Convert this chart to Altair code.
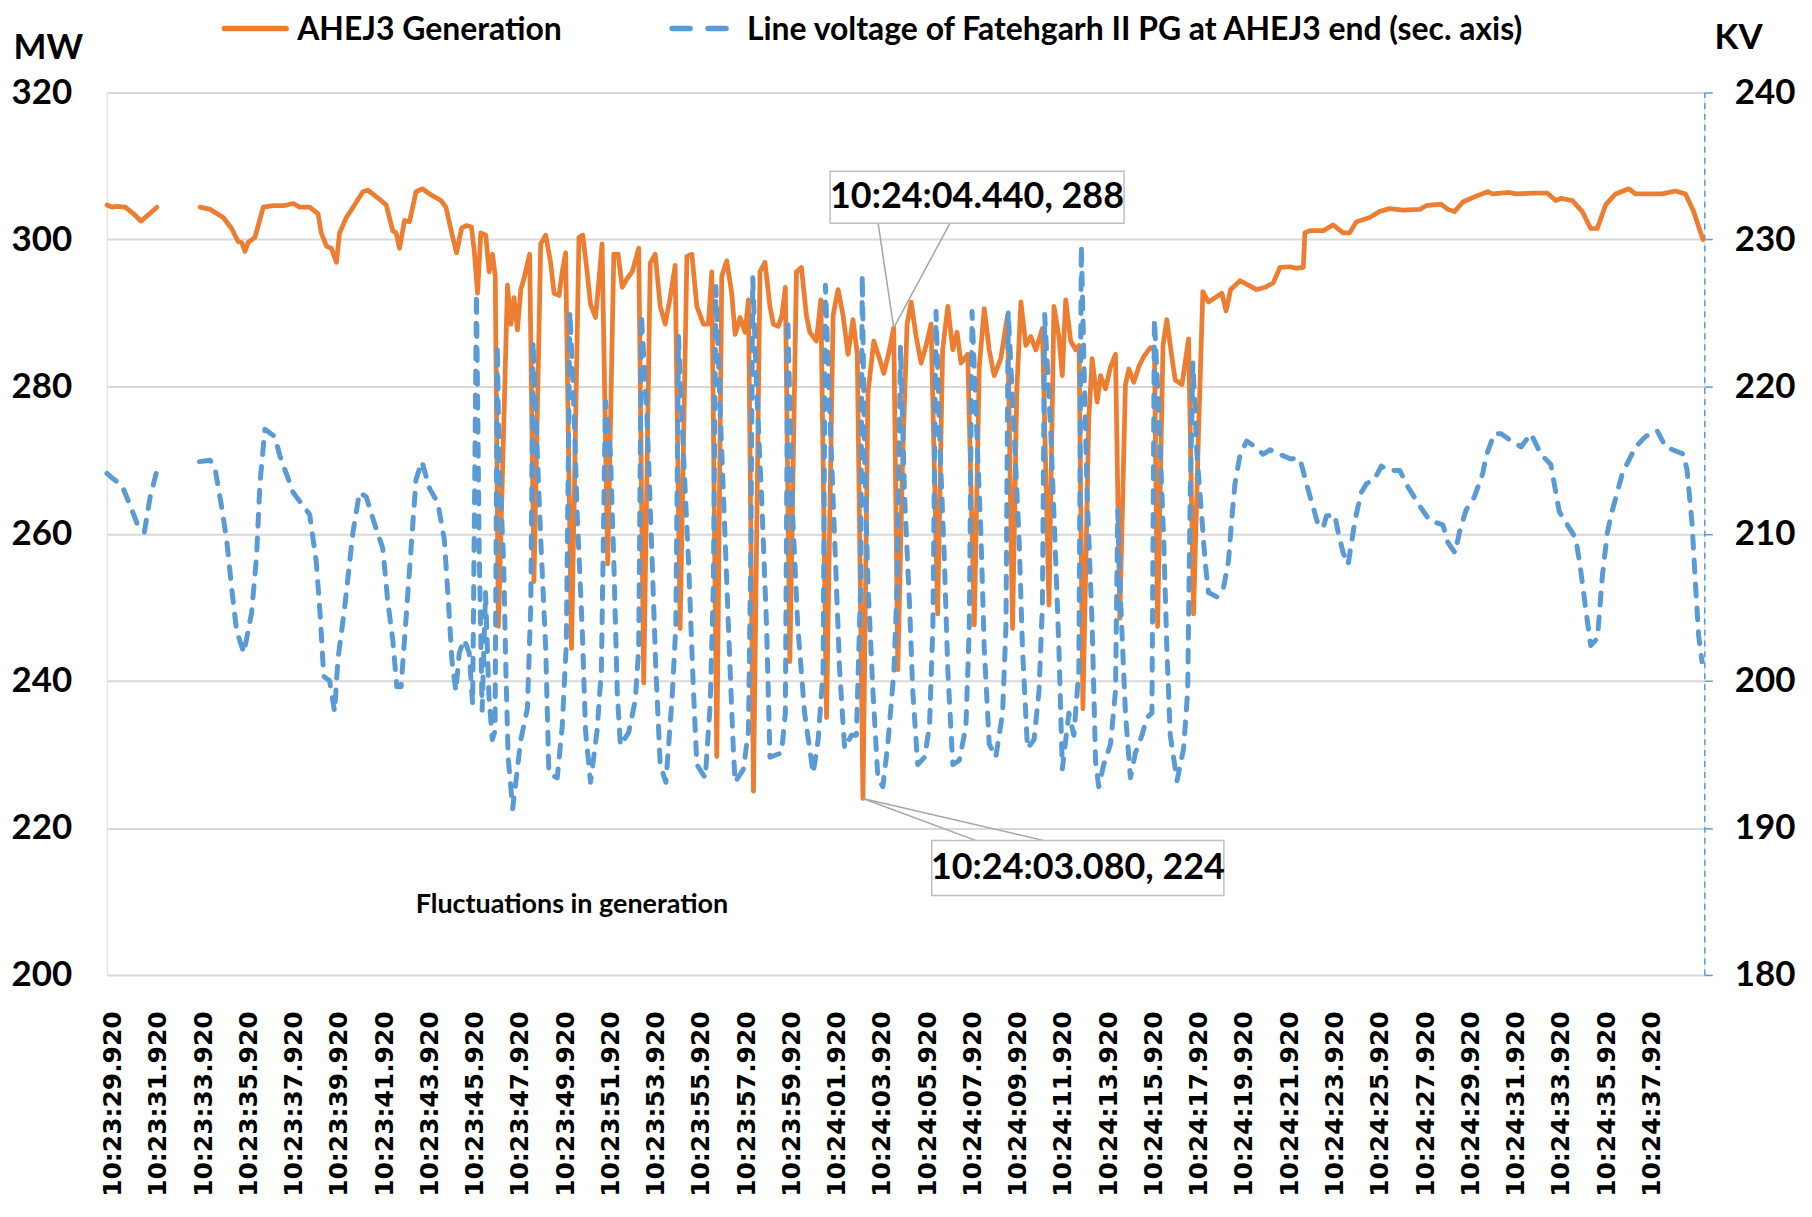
import altair as alt
import pandas as pd

# ---------------- data (time = seconds after 10:23:00) ----------------
orange_t = [29.67, 29.89, 30.11, 30.48, 30.85, 31.17, 31.44, 31.88,
            33.79, 34.23, 34.81, 35.18, 35.47, 35.62, 35.77, 35.91, 36.21, 36.58, 37.02, 37.46,
            37.90, 38.19, 38.63, 39.00, 39.14, 39.37, 39.59, 39.81, 39.95, 40.25, 40.61, 40.98,
            41.20, 41.71, 42.01, 42.30, 42.45, 42.60, 42.82, 43.04, 43.33, 43.62, 43.92, 44.43,
            44.65, 44.95, 45.12, 45.35, 45.55, 45.78, 45.90, 46.05, 46.19, 46.41, 46.56, 46.71,
            46.83, 46.97, 47.37, 47.52, 47.66, 47.81, 47.96, 48.10, 48.35, 48.54, 48.84, 49.06,
            49.28, 49.43, 49.65, 49.79, 49.94, 50.20, 50.53, 50.70, 50.89, 51.04, 51.26, 51.41,
            51.55, 51.80, 52.07, 52.26, 52.44, 52.66, 52.88, 53.17, 53.39, 53.68, 53.90, 54.12,
            54.34, 54.56, 54.78, 55.00, 55.30, 55.52, 55.74, 56.03, 56.25, 56.40, 56.62, 56.84,
            57.06, 57.28, 57.43, 57.65, 57.87, 58.02, 58.24, 58.53, 58.75, 58.97, 59.12, 59.34,
            59.50, 59.65, 59.85, 60.14, 60.36, 60.58, 60.73, 61.02, 61.22, 61.47, 61.76, 61.98,
            62.20, 62.42, 62.64, 62.83, 63.08, 63.30, 63.56, 63.81, 64.00, 64.25, 64.44, 64.62,
            64.84, 65.03, 65.21, 65.43, 65.65, 65.87, 66.09, 66.38, 66.60, 66.83, 67.05, 67.24,
            67.41, 67.71, 68.00, 68.22, 68.44, 68.66, 68.88, 69.17, 69.47, 69.69, 69.88, 70.06,
            70.28, 70.50, 70.72, 71.01, 71.30, 71.52, 71.74, 71.89, 72.04, 72.26, 72.48, 72.63,
            72.80, 73.06, 73.21, 73.43, 73.58, 73.80, 74.02, 74.24, 74.43, 74.68, 74.83, 75.05,
            75.27, 75.49, 75.78, 75.96, 76.10, 76.34, 76.51, 76.74, 76.88, 77.18, 77.47, 77.69,
            77.91, 78.10, 78.35, 78.64, 78.94, 79.13, 79.33, 79.75, 80.11, 80.48, 80.85, 81.21,
            81.51, 81.95, 82.24, 82.54, 82.61, 82.83, 83.42, 83.86, 84.30, 84.59, 84.88, 85.47,
            85.91, 86.35, 86.94, 87.68, 87.97, 88.63, 88.93, 89.22, 89.59, 90.18, 90.69, 90.91,
            91.64, 91.94, 92.67, 93.33, 93.70, 93.92, 94.43, 94.87, 95.24, 95.53, 95.90, 96.34,
            96.93, 97.22, 97.81, 98.40, 98.99, 99.43, 99.79, 100.20]
orange_mw = [304.7, 304.4, 304.5, 304.4, 303.5, 302.5, 303.2, 304.4,
             304.4, 304.1, 303.0, 301.5, 299.7, 299.6, 298.4, 299.6, 300.3, 304.4, 304.6, 304.6,
             304.9, 304.4, 304.4, 303.5, 300.9, 299.1, 298.8, 296.9, 300.9, 303.0, 304.7, 306.5,
             306.7, 305.5, 304.7, 301.2, 300.9, 298.8, 302.6, 302.4, 306.5, 306.9, 306.2, 305.3,
             304.4, 300.3, 298.2, 301.6, 301.9, 301.7, 298.5, 292.7, 300.9, 300.6, 295.6, 298.0,
             295.0, 247.4, 293.8, 288.5, 292.1, 287.7, 293.2, 294.7, 298.0, 253.5, 299.4, 300.6,
             296.8, 292.7, 292.4, 295.6, 298.2, 244.4, 300.3, 300.6, 295.6, 291.2, 289.4, 294.4,
             299.4, 255.9, 298.0, 298.0, 293.5, 294.7, 295.6, 298.8, 239.7, 296.8, 298.0, 290.9,
             288.5, 292.1, 296.5, 247.1, 297.7, 298.0, 290.9, 288.5, 288.5, 295.6, 229.7, 295.0,
             297.1, 292.7, 287.1, 289.4, 287.4, 291.8, 225.0, 295.6, 296.9, 290.9, 288.5, 288.2,
             289.7, 293.5, 242.6, 295.6, 296.2, 289.7, 287.4, 286.2, 291.8, 235.0, 289.7, 293.2,
             289.7, 284.4, 289.1, 284.4, 224.0, 279.1, 286.2, 283.8, 281.8, 285.0, 288.0, 241.5,
             270.9, 288.5, 291.5, 286.8, 283.2, 285.6, 288.5, 249.1, 285.0, 290.9, 285.0, 287.4,
             283.2, 284.4, 247.6, 282.7, 290.6, 285.0, 281.5, 283.8, 289.7, 247.1, 279.7, 291.5,
             285.6, 286.8, 285.0, 287.9, 250.3, 290.9, 286.8, 281.5, 291.8, 286.2, 285.0, 285.6,
             236.2, 275.6, 283.8, 277.9, 281.5, 279.7, 282.7, 284.4, 248.5, 280.3, 282.4, 280.6,
             282.7, 284.1, 285.3, 285.0, 247.4, 285.6, 289.1, 283.8, 280.9, 280.3, 286.5, 249.1,
             273.8, 292.9, 291.5, 292.1, 292.7, 290.3, 293.2, 294.4, 293.8, 293.2, 293.5, 294.1,
             296.2, 296.3, 296.1, 296.2, 300.9, 301.2, 301.2, 302.0, 300.9, 300.9, 302.4, 303.0,
             303.8, 304.2, 304.0, 304.1, 304.6, 304.8, 304.1, 303.8, 305.1, 305.9, 306.5, 306.2,
             306.4, 306.2, 306.3, 306.3, 305.3, 305.6, 305.3, 303.8, 301.5, 301.5, 304.7, 306.2,
             306.9, 306.2, 306.2, 306.2, 306.6, 306.2, 303.8, 300.0]

blue_t = [29.67, 29.97, 30.33, 30.70, 31.00, 31.32, 31.58, 31.88,
          33.76, 34.23, 34.45, 34.74, 34.96, 35.18, 35.40, 35.72, 36.06, 36.28, 36.43, 36.65,
          37.09, 37.31, 37.90, 38.63, 38.92, 39.10, 39.25, 39.51, 39.73, 39.88, 40.17, 40.54,
          40.83, 41.13, 41.49, 41.86, 42.08, 42.30, 42.48, 42.67, 42.89, 43.11, 43.33, 43.59,
          43.92, 44.29, 44.58, 44.77, 44.92, 45.09, 45.24, 45.46, 45.68, 45.83, 46.00, 46.12,
          46.25, 46.40, 46.55, 46.70, 46.82, 46.92, 47.00, 47.20, 47.30, 47.40, 47.60, 47.96,
          48.25, 48.40, 48.50, 48.69, 48.84, 49.06, 49.20, 49.57, 49.79, 49.97, 50.13, 50.31,
          50.45, 50.67, 50.82, 51.04, 51.33, 51.52, 51.70, 51.92, 52.07, 52.22, 52.36, 52.73,
          53.02, 53.17, 53.29, 53.54, 53.73, 53.93, 54.12, 54.37, 54.64, 54.81, 54.93, 55.15,
          55.37, 55.59, 55.74, 56.11, 56.33, 56.47, 56.58, 56.77, 56.99, 57.21, 57.35, 57.43,
          57.80, 58.02, 58.13, 58.21, 58.38, 58.60, 58.82, 58.97, 59.48, 59.65, 59.76, 59.95,
          60.20, 60.50, 60.88, 61.10, 61.32, 61.42, 61.61, 61.83, 62.05, 62.27, 62.57, 62.79,
          62.98, 63.05, 63.15, 63.30, 63.52, 63.74, 63.96, 64.18, 64.45, 64.59, 64.74, 64.92,
          65.14, 65.28, 65.50, 65.80, 66.02, 66.17, 66.31, 66.46, 66.68, 66.83, 67.05, 67.34,
          67.63, 67.78, 67.90, 68.07, 68.29, 68.44, 68.66, 68.95, 69.25, 69.40, 69.50, 69.76,
          69.98, 70.13, 70.35, 70.64, 70.86, 71.01, 71.11, 71.38, 71.60, 71.74, 71.89, 72.18,
          72.40, 72.62, 72.73, 72.85, 72.99, 73.21, 73.36, 73.50, 73.72, 74.02, 74.24, 74.34,
          74.45, 74.68, 74.90, 75.12, 75.41, 75.63, 75.85, 75.96, 76.15, 76.37, 76.51, 76.66,
          76.96, 77.25, 77.43, 77.54, 77.66, 77.84, 78.06, 78.20, 78.35, 78.72, 79.01, 79.23,
          79.38, 79.52, 79.75, 80.04, 80.33, 80.77, 81.07, 81.95, 82.39, 82.68, 82.90, 83.20,
          83.42, 83.56, 83.93, 84.08, 84.30, 84.52, 84.74, 84.88, 85.10, 85.33, 85.69, 85.99,
          86.28, 86.80, 87.16, 87.68, 88.12, 88.71, 88.93, 89.25, 89.44, 89.73, 90.10, 90.47,
          90.62, 90.98, 91.28, 91.64, 92.16, 92.60, 93.04, 93.48, 93.70, 93.85, 94.29, 94.58,
          94.80, 95.02, 95.24, 95.54, 95.76, 95.98, 96.20, 96.64, 97.22, 97.66, 98.18, 98.55,
          99.35, 99.50, 99.72, 99.87, 100.01, 100.16]
blue_kv = [214.1, 213.7, 213.3, 211.9, 210.7, 210.1, 212.5, 214.3,
           214.9, 215.0, 214.4, 211.8, 209.6, 206.3, 203.4, 201.9, 204.6, 208.4, 213.4, 217.1,
           216.6, 215.3, 212.8, 211.3, 208.1, 204.3, 200.3, 200.0, 197.9, 201.5, 204.9, 210.1,
           212.8, 212.5, 210.7, 209.0, 205.4, 202.8, 199.6, 199.6, 204.3, 209.0, 213.7, 214.9,
           213.1, 212.1, 209.6, 205.1, 201.3, 199.3, 201.9, 202.8, 201.9, 198.4, 226.3, 209.0,
           198.0, 206.0, 199.0, 196.0, 196.6, 222.8, 215.0, 208.1, 200.7, 194.8, 191.3, 196.0,
           198.1, 205.1, 223.1, 215.4, 209.6, 202.2, 193.7, 193.4, 196.9, 202.5, 225.1, 218.4,
           211.3, 203.7, 196.6, 193.1, 196.6, 200.7, 219.0, 215.4, 208.1, 199.3, 195.6, 196.5,
           198.7, 202.2, 224.9, 217.8, 209.6, 200.7, 194.3, 193.1, 198.7, 203.7, 223.4, 215.4,
           208.1, 199.3, 194.3, 193.4, 198.4, 206.6, 226.8, 218.4, 209.6, 200.7, 195.4, 193.1,
           194.0, 196.6, 209.6, 227.4, 219.9, 212.5, 203.7, 194.8, 195.1, 197.8, 224.6, 212.0,
           203.7, 197.8, 193.7, 196.0, 200.7, 226.9, 218.4, 209.6, 200.7, 195.4, 196.3, 196.3,
           206.6, 227.6, 215.4, 206.6, 199.3, 193.4, 192.8, 195.7, 200.7, 206.6, 222.8, 212.5,
           205.1, 199.3, 194.3, 194.8, 196.9, 203.7, 225.1, 216.9, 208.1, 200.7, 194.3, 194.6,
           196.9, 203.7, 225.1, 218.4, 210.1, 202.2, 195.7, 194.8, 197.8, 203.7, 225.1, 216.9,
           209.6, 202.2, 195.4, 196.0, 199.3, 205.1, 224.9, 216.9, 208.1, 202.2, 194.0, 197.8,
           196.3, 200.7, 229.6, 221.3, 212.5, 203.7, 194.5, 192.8, 194.3, 195.7, 199.3, 211.6,
           206.0, 197.8, 193.4, 195.1, 196.3, 197.5, 197.8, 224.6, 218.4, 209.6, 202.2, 196.3,
           193.2, 195.4, 199.3, 212.5, 221.6, 215.4, 211.0, 208.1, 206.0, 205.7, 206.3, 208.1,
           211.0, 213.4, 215.4, 216.3, 216.0, 215.4, 215.7, 215.1, 215.1, 213.4, 212.2, 210.6,
           210.4, 211.2, 211.3, 210.1, 208.7, 207.9, 210.1, 211.3, 212.8, 213.4, 213.7, 214.6,
           214.3, 214.3, 213.2, 211.9, 210.9, 210.6, 209.4, 208.7, 210.1, 211.6, 212.5, 214.1,
           215.3, 216.8, 216.8, 216.4, 215.9, 216.8, 215.4, 214.7, 212.8, 211.5, 210.4, 209.7,
           207.5, 204.9, 202.4, 202.9, 207.2, 210.1, 211.6, 214.1, 215.9, 216.6, 217.0, 215.9,
           215.4, 214.3, 210.7, 206.6, 203.1, 201.3]

series_names = ["AHEJ3 Generation",
                "Line voltage of Fatehgarh II PG at AHEJ3 end (sec. axis)"]
left_ticks = [200, 220, 240, 260, 280, 300, 320]
right_ticks = [180, 190, 200, 210, 220, 230, 240]
x_ticks = [round(29.92 + 2 * k, 2) for k in range(35)]

ann_t = [64.44, 63.08]
ann_v = [288, 224]
ann_labels = ["10:24:04.440, 288", "10:24:03.080, 224"]
note_text = "Fluctuations in generation"

# ---------------- styling ----------------
ORANGE = "#ed7d31"
BLUE = "#5b9bd5"
FONT = "Liberation Sans Narrow, Lato, sans-serif"
W, H = 1602, 885
GAP_BOUNDARY = 32.8

df_o = pd.DataFrame({"t": orange_t, "mw": orange_mw})
df_o["seg"] = (df_o["t"] > GAP_BOUNDARY).astype(int)
df_b = pd.DataFrame({"t": blue_t, "kv": blue_kv})
df_b["seg"] = (df_b["t"] > GAP_BOUNDARY).astype(int)

x_scale = alt.Scale(domain=[29.66, 100.26], nice=False, zero=False)
x_axis = alt.Axis(
    values=x_ticks, title=None, grid=False, domain=False, ticks=False,
    labelAngle=-90, labelFont="DejaVu Sans", labelFontSize=25, labelFontWeight="bold",
    labelColor="black", labelPadding=36, labelOverlap=False, labelFlush=False, labelLimit=0,
    labelExpr="'10:' + (datum.value < 60 ? '23:' + format(datum.value, '06.3f') : '24:' + format(datum.value - 60, '06.3f'))",
)
mw_scale = alt.Scale(domain=[200, 320], nice=False, zero=False)
kv_scale = alt.Scale(domain=[180, 240], nice=False, zero=False)

left_axis = alt.Axis(
    orient="left", values=left_ticks, grid=True, gridColor="#d9d9d9", gridWidth=2,
    domain=False, ticks=False, labelFont=FONT, labelFontSize=35, labelFontWeight="bold",
    labelColor="black", labelPadding=35, title="MW", titleAngle=0, titleFont=FONT,
    titleFontSize=35, titleFontWeight="bold", titleColor="black", titleAlign="center",
    titleBaseline="middle", titleX=-59, titleY=-45,
)
right_axis = alt.Axis(
    orient="right", values=right_ticks, grid=False, domain=True, domainColor=BLUE,
    domainDash=[6, 5], domainWidth=1.5, ticks=True, tickColor=BLUE, tickSize=8,
    tickWidth=1.5, labelFont=FONT, labelFontSize=35, labelFontWeight="bold",
    labelColor="black", labelPadding=22, title="KV", titleAngle=0, titleFont=FONT,
    titleFontSize=35, titleFontWeight="bold", titleColor="black", titleAlign="center",
    titleBaseline="middle", titleX=34, titleY=-55,
)

orange = alt.Chart(df_o).mark_line(
    color=ORANGE, strokeWidth=4.75, strokeJoin="round", strokeCap="round"
).encode(
    x=alt.X("t:Q", scale=x_scale, axis=x_axis),
    y=alt.Y("mw:Q", scale=mw_scale, axis=left_axis),
    detail="seg:N",
)

blue = alt.Chart(df_b).mark_line(
    color=BLUE, strokeWidth=5, strokeDash=[12, 12], strokeCap="round", strokeJoin="round"
).encode(
    x=alt.X("t:Q", scale=x_scale, axis=x_axis),
    y=alt.Y("kv:Q", scale=kv_scale, axis=right_axis),
    detail="seg:N",
)

# annotation callouts (data coordinates)
ann = pd.DataFrame({
    "t": ann_t, "v": ann_v, "label": ann_labels,
    "bx1": [61.63, 66.12], "bx2": [74.62, 79.03],
    "by1": [309.3, 218.3], "by2": [302.2, 210.8],
    "tx": [68.12, 72.58], "ty": [305.8, 214.6],
})
leaders = pd.DataFrame({
    "t": [ann_t[0], ann_t[0], ann_t[1], ann_t[1]],
    "v": [ann_v[0], ann_v[0], ann_v[1], ann_v[1]],
    "t2": [63.74, 66.96, 68.23, 71.32],
    "v2": [302.4, 302.4, 218.1, 218.1],
})

leader_layer = alt.Chart(leaders).mark_rule(color="#a6a6a6", strokeWidth=1.5).encode(
    x=alt.X("t:Q", scale=x_scale, axis=x_axis), x2="t2:Q",
    y=alt.Y("v:Q", scale=mw_scale, axis=None), y2="v2:Q",
)
box_layer = alt.Chart(ann).mark_rect(fill="white", stroke="#bfbfbf", strokeWidth=1.5).encode(
    x=alt.X("bx1:Q", scale=x_scale, axis=x_axis), x2="bx2:Q",
    y=alt.Y("by1:Q", scale=mw_scale, axis=None), y2="by2:Q",
)
ann_text = alt.Chart(ann).mark_text(
    font=FONT, fontSize=36, fontWeight="bold", color="black", align="center", baseline="middle"
).encode(
    x=alt.X("tx:Q", scale=x_scale, axis=x_axis),
    y=alt.Y("ty:Q", scale=mw_scale, axis=None),
    text="label:N",
)
note = alt.Chart(pd.DataFrame({"tx": [50.22], "ty": [209.5], "label": [note_text]})).mark_text(
    font=FONT, fontSize=27, fontWeight="bold", color="black", align="center", baseline="middle"
).encode(
    x=alt.X("tx:Q", scale=x_scale, axis=x_axis),
    y=alt.Y("ty:Q", scale=mw_scale, axis=None),
    text="label:N",
)

# legend (drawn above the plot area)
one = pd.DataFrame({"name": [series_names[0]]})
two = pd.DataFrame({"name": [series_names[1]]})
leg1_line = alt.Chart(one).mark_rule(color=ORANGE, strokeWidth=5.5, strokeCap="round").encode(
    x=alt.value(118), x2=alt.value(180), y=alt.value(-64))
leg1_text = alt.Chart(one).mark_text(
    font=FONT, fontSize=32, fontWeight="bold", color="black", align="left", baseline="middle"
).encode(x=alt.value(191), y=alt.value(-63), text="name:N")
leg2_line = alt.Chart(two).mark_rule(
    color=BLUE, strokeWidth=5.5, strokeCap="round", strokeDash=[18, 18]
).encode(x=alt.value(567), x2=alt.value(633), y=alt.value(-64))
leg2_text = alt.Chart(two).mark_text(
    font=FONT, fontSize=32, fontWeight="bold", color="black", align="left", baseline="middle"
).encode(x=alt.value(642), y=alt.value(-63), text="name:N")

chart = alt.layer(
    orange, blue, leader_layer, box_layer, ann_text, note,
    leg1_line, leg1_text, leg2_line, leg2_text,
).resolve_scale(y="independent").properties(
    width=W, height=H,
    autosize=alt.AutoSizeParams(type="none"),
    padding={"left": 99, "top": 83, "right": 100, "bottom": 232},
).configure_view(stroke=None).configure(background="white")

chart.save("out.html", embed_options={"renderer": "svg", "actions": False})
